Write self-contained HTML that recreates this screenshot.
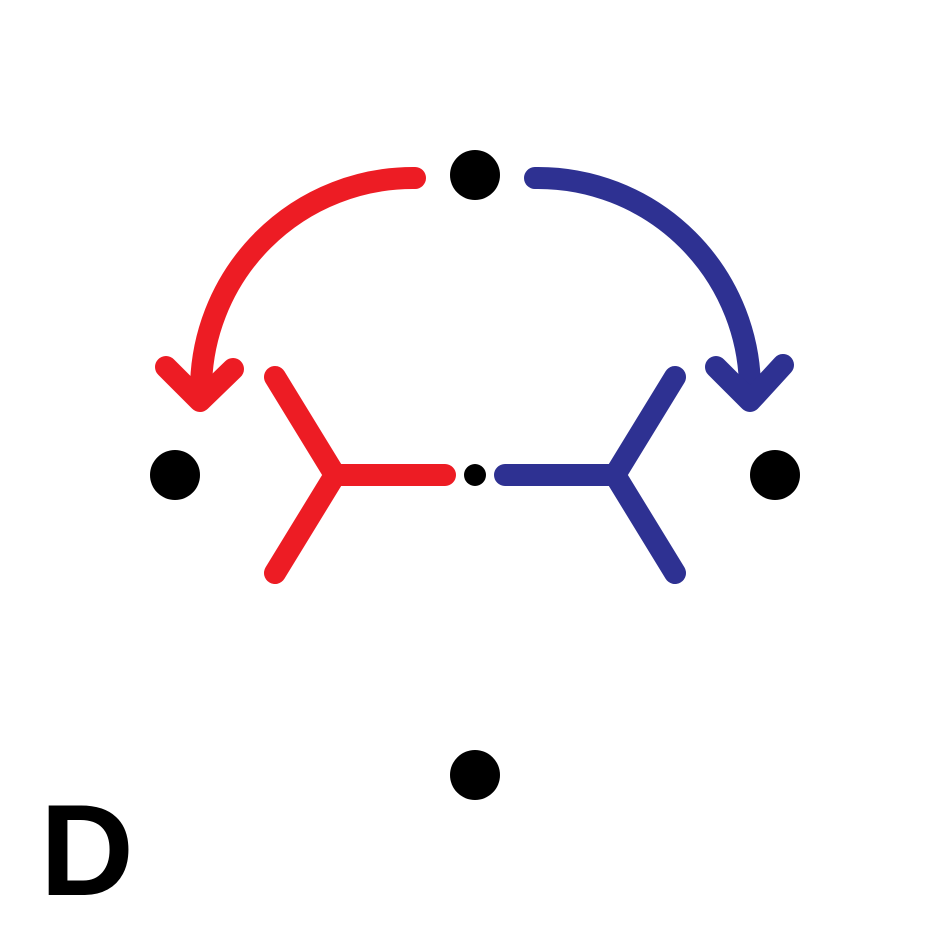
<!DOCTYPE html>
<html><head><meta charset="utf-8"><style>
html,body{margin:0;padding:0;background:#fff;width:950px;height:950px;overflow:hidden}
</style></head><body>
<svg width="950" height="950" viewBox="0 0 950 950">
<rect width="950" height="950" fill="#fff"/>
<circle cx="475" cy="175" r="25" fill="#000"/>
<circle cx="175" cy="475" r="25" fill="#000"/>
<circle cx="775" cy="475" r="25" fill="#000"/>
<circle cx="475" cy="775" r="25" fill="#000"/>
<circle cx="475" cy="475" r="11" fill="#000"/>
<g stroke="#ed1c24" stroke-width="22" stroke-linecap="round" stroke-linejoin="round" fill="none">
<path d="M445 475 L335 475 M335 475 L275 377 M335 475 L275 573"/>
<path d="M415 178 A212 212 0 0 0 201 392"/>
<path d="M166 367 L200 401 L233 369"/>
</g>
<g stroke="#2e3192" stroke-width="22" stroke-linecap="round" stroke-linejoin="round" fill="none">
<path d="M505 475 L615 475 M615 475 L675 377 M615 475 L675 573"/>
<path d="M535 178 A212 212 0 0 1 750 392"/>
<path d="M716 367 L750 401 L783 365"/>
</g>
<text x="40" y="895" font-family="Liberation Sans, sans-serif" font-weight="bold" font-size="130" fill="#000">D</text>
</svg>
</body></html>
